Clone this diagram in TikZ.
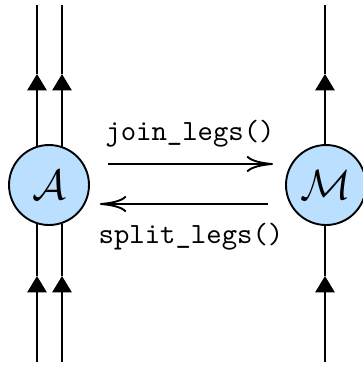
\documentclass[tikz,border=0pt]{standalone}
\usetikzlibrary{arrows.meta}
\definecolor{tensorblue}{RGB}{187,224,255}
\begin{document}
\begin{tikzpicture}[x=0.3413pt,y=-0.3413pt,
  tensor/.style={circle,draw=black,fill=tensorblue,line width=0.65pt,minimum size=27.3pt,inner sep=0pt,font=\Large},
  leg/.style={line width=0.65pt},
  legarrow/.style={line width=0.65pt,-{Triangle[length=5.6pt,width=6.6pt]}},
  op/.style={line width=0.65pt,-{Computer Modern Rightarrow[length=9pt,width=5.5pt]}},
  lbl/.style={font=\ttfamily,inner sep=0pt}]
\useasboundingbox (0,0) rectangle (362,367);
% leg coordinates
\foreach \n/\x in {a1/37,a2/62,m/325}{
  \coordinate (\n b) at (\x,362);
  \coordinate (\n bt) at (\x,276);
  \coordinate (\n tt) at (\x,74);
  \coordinate (\n t) at (\x,5);
}
% legs (behind the tensors)
\foreach \n in {a1,a2,m}{
  \draw[legarrow] (\n b) -- (\n bt);
  \draw[legarrow] (\n bt) -- (\n tt);
  \draw[leg] (\n tt) -- (\n t);
}
% tensors
\node[tensor] (A) at (49,185) {$\mathcal{A}$};
\node[tensor] (M) at (326,185) {$\mathcal{M}$};
% operations
\coordinate (j1) at (108,164); \coordinate (j2) at (273,164);
\coordinate (s1) at (268,204); \coordinate (s2) at (100,204);
\draw[op] (j1) -- (j2);
\draw[op] (s1) -- (s2);
\node[lbl] (join) at (190,134) {join\_legs()};
\node[lbl] (split) at (191,237) {split\_legs()};
\end{tikzpicture}
\end{document}
